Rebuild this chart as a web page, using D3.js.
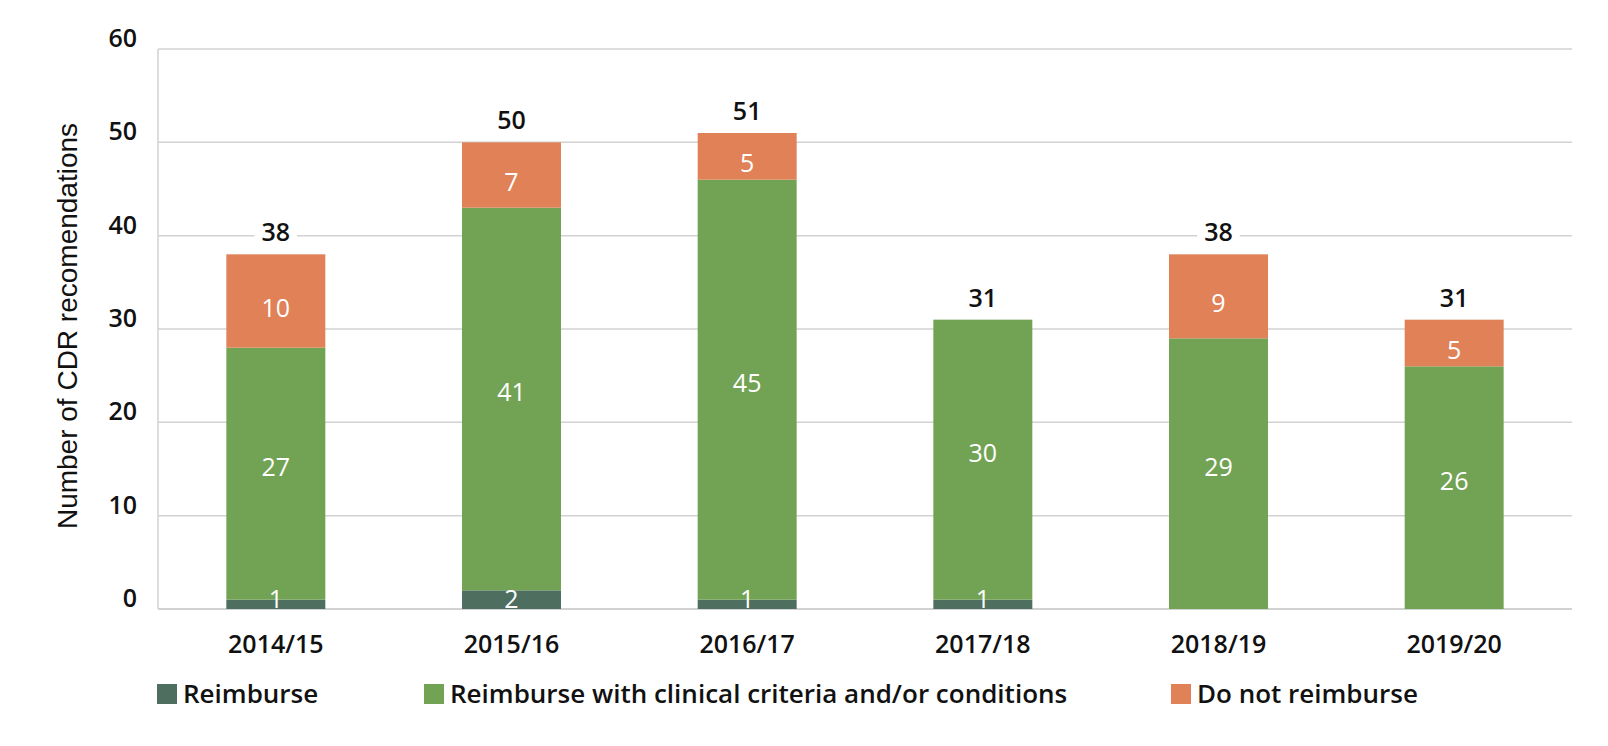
<!DOCTYPE html>
<html><head><meta charset="utf-8">
<script src="https://cdn.jsdelivr.net/npm/d3@7"></script>
<style>
body{margin:0;background:#fff;}
svg text{font-family:"Open Sans",sans-serif;font-weight:600;}
</style></head>
<body>
<svg id="chart" width="1608" height="746"></svg>
<script>
const categories = ["2014/15","2015/16","2016/17","2017/18","2018/19","2019/20"];
const seriesNames = ["Reimburse","Reimburse with clinical criteria and/or conditions","Do not reimburse"];
const reimburse = [1,2,1,1,0,0];
const reimburseWithCriteria = [27,41,45,30,29,26];
const doNotReimburse = [10,7,5,0,9,5];
const totals = [38,50,51,31,38,31];
const yTicks = [0,10,20,30,40,50,60];
const colors = ["#4e6f5f","#72a354","#e08157"];

const svg = d3.select("#chart");
const x = d3.scaleBand().domain(categories).range([158,1572]).paddingInner(0.58).paddingOuter(0.29);
const y = d3.scaleLinear().domain([0,60]).range([609,49]);

// gridlines
svg.append("g").selectAll("line").data(yTicks).join("line")
  .attr("x1",158).attr("x2",1572)
  .attr("y1",d=>y(d)).attr("y2",d=>y(d))
  .attr("stroke","#d2d2d2").attr("stroke-width",d=>d===0?2:1.5);
// left axis line
svg.append("line").attr("x1",158).attr("x2",158).attr("y1",y(60)).attr("y2",y(0))
  .attr("stroke","#d2d2d2").attr("stroke-width",1.5);

// y tick labels
svg.append("g").selectAll("text").data(yTicks).join("text")
  .attr("x",137).attr("y",d=>y(d)-2).attr("text-anchor","end")
  .attr("font-size",25).attr("fill","#111").text(d=>d);

// y title
svg.append("text").attr("transform","translate(77,326) rotate(-90)")
  .attr("text-anchor","middle")
  .style("font-family","'Liberation Sans', Arial, sans-serif").style("font-weight","400")
  .attr("font-size",28).attr("fill","#111").text("Number of CDR recomendations");

// stack
const rows = categories.map((c,i)=>({cat:c, s0:reimburse[i], s1:reimburseWithCriteria[i], s2:doNotReimburse[i]}));
const stack = d3.stack().keys(["s0","s1","s2"])(rows);
const labelShift = [0,-7,7];

const g = svg.append("g");
stack.forEach((layer,li)=>{
  g.append("g").selectAll("rect").data(layer).join("rect")
    .attr("x",d=>x(d.data.cat)).attr("width",x.bandwidth())
    .attr("y",d=>y(d[1])).attr("height",d=>y(d[0])-y(d[1]))
    .attr("fill",colors[li]);
});
// segment labels
stack.forEach((layer,li)=>{
  g.append("g").selectAll("text").data(layer.filter(d=>d[1]-d[0]>0)).join("text")
    .attr("x",d=>x(d.data.cat)+x.bandwidth()/2)
    .attr("y",d=>{const c=(y(d[0])+y(d[1]))/2+labelShift[li]; return Math.min(c, y(d[0])-10);})
    .attr("dy","0.36em").attr("text-anchor","middle").style("font-weight","500")
    .attr("font-size",25).attr("fill","#fff").text(d=>d[1]-d[0]);
});
// totals
const tg = svg.append("g").selectAll("g").data(categories).join("g");
tg.each(function(c,i){
  const gg = d3.select(this);
  const cx = x(c)+x.bandwidth()/2, by = y(totals[i])-13;
  const t = gg.append("text").attr("x",cx).attr("y",by).attr("text-anchor","middle")
    .attr("font-size",25).attr("fill","#111").text(totals[i]);
  const bb = t.node().getBBox();
  gg.insert("rect","text").attr("x",bb.x-7).attr("y",bb.y).attr("width",bb.width+14).attr("height",bb.height).attr("fill","#fff");
});

// x labels
svg.append("g").selectAll("text").data(categories).join("text")
  .attr("x",d=>x(d)+x.bandwidth()/2).attr("y",653).attr("text-anchor","middle")
  .attr("font-size",25).attr("fill","#111").text(d=>d);

// legend
const legendX = [157,424,1171];
const lg = svg.append("g").selectAll("g").data(seriesNames).join("g")
  .attr("transform",(d,i)=>"translate("+legendX[i]+",684)");
lg.append("rect").attr("width",20).attr("height",20).attr("fill",(d,i)=>colors[i]);
lg.append("text").attr("x",26).attr("y",19).attr("font-size",26).attr("fill","#111").text(d=>d);
</script>
</body></html>
